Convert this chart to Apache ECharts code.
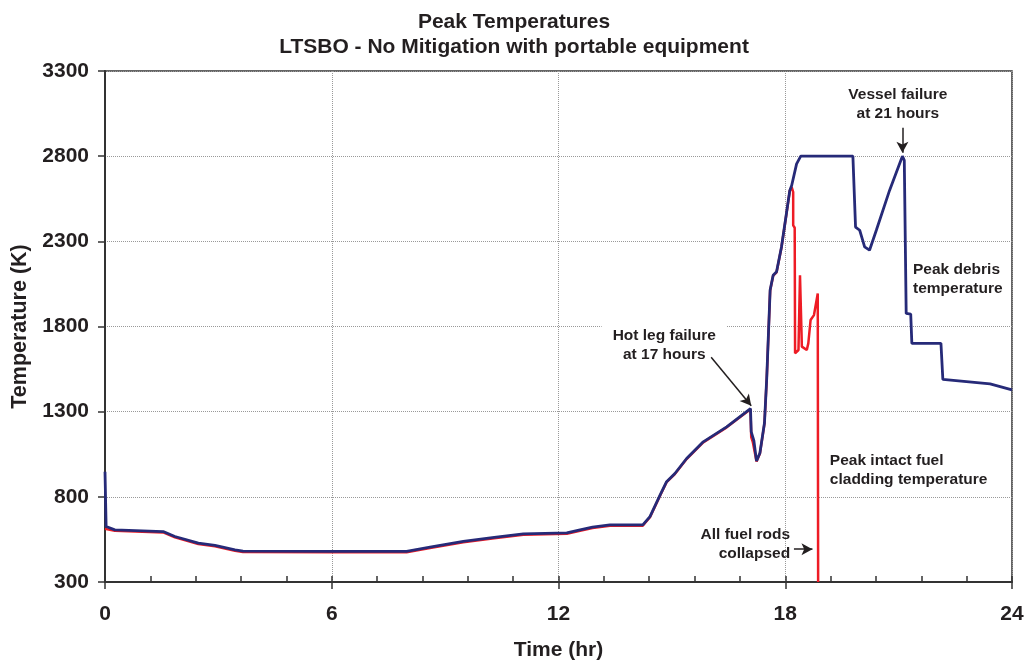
<!DOCTYPE html>
<html>
<head>
<meta charset="utf-8">
<script src="https://cdn.jsdelivr.net/npm/echarts@6/dist/echarts.min.js"></script>
<style>
html,body{margin:0;padding:0;background:#fff;}
#chart{width:1028px;height:666px;}
</style>
</head>
<body>
<div id="chart"></div>
<script>
// Peak debris temperature (blue)
var timeBlue = [0, 0.03, 0.26, 1.54, 1.85, 2.47, 2.91, 3.44, 3.65, 5.95, 7.98, 8.6, 9.48, 10.3, 11.07, 12.22, 12.57, 12.9, 13.36, 14.23, 14.42, 14.69, 14.86, 15.08, 15.39, 15.83, 16.45, 17.08, 17.1, 17.14, 17.17, 17.24, 17.33, 17.45, 17.51, 17.6, 17.68, 17.77, 17.9, 18.03, 18.12, 18.17, 18.3, 18.41, 19.79, 19.86, 19.97, 20.05, 20.1, 20.23, 20.41, 20.76, 21.1, 21.15, 21.2, 21.32, 21.35, 22.12, 22.17, 23.42, 24.0];
var tempBlue = [947, 626, 606, 596, 567, 528, 515, 489, 481, 480, 480, 505, 538, 562, 583, 588, 606, 622, 635, 635, 684, 811, 889, 937, 1025, 1123, 1211, 1318, 1181, 1175, 1130, 1010, 1057, 1233, 1496, 2014, 2101, 2121, 2267, 2462, 2599, 2628, 2755, 2800, 2800, 2384, 2365, 2306, 2267, 2248, 2365, 2599, 2800, 2775, 1877, 1873, 1701, 1701, 1490, 1463, 1428];
// Peak intact fuel cladding temperature (red)
var timeRed = [0, 0.26, 1.54, 1.85, 2.47, 2.91, 3.44, 3.65, 5.95, 7.98, 8.6, 9.48, 10.3, 11.07, 12.22, 12.57, 12.9, 13.36, 14.23, 14.42, 14.69, 14.86, 15.08, 15.39, 15.83, 16.45, 17.08, 17.1, 17.14, 17.17, 17.24, 17.33, 17.45, 17.51, 17.6, 17.68, 17.77, 17.9, 18.03, 18.12, 18.17, 18.21, 18.21, 18.24, 18.25, 18.26, 18.35, 18.39, 18.44, 18.57, 18.61, 18.67, 18.76, 18.86, 18.87];
var tempRed = [612, 601, 591, 562, 523, 510, 484, 476, 475, 475, 500, 533, 557, 578, 583, 601, 617, 630, 630, 680, 808, 886, 934, 1022, 1120, 1208, 1314, 1150, 1123, 1130, 1008, 1055, 1230, 1493, 2010, 2098, 2118, 2264, 2459, 2596, 2619, 2589, 2394, 2404, 2380, 1643, 1662, 2101, 1682, 1662, 1701, 1838, 1867, 1994, 300];
var xTicks = [0, 6, 12, 18, 24];
var yTicks = [300, 800, 1300, 1800, 2300, 2800, 3300];

function zip(a, b) { return a.map(function (v, i) { return [v, b[i]]; }); }

var FONT = '"Liberation Sans", Arial, sans-serif';
var chart = echarts.init(document.getElementById('chart'));
var option = {
  animation: false,
  backgroundColor: '#fff',
  title: {
    text: 'Peak Temperatures\nLTSBO - No Mitigation with portable equipment',
    left: 'center', top: 5,
    textStyle: { fontFamily: FONT, fontWeight: 'bold', fontSize: 21, lineHeight: 25, color: '#231f20' }
  },
  grid: { left: 105, right: 16, top: 71, bottom: 82, show: true, borderColor: '#333', borderWidth: 1.5, backgroundColor: 'transparent' },
  xAxis: [{
    type: 'value', min: xTicks[0], max: xTicks[xTicks.length - 1], interval: 6,
    name: 'Time (hr)', nameLocation: 'middle', nameGap: 58,
    nameTextStyle: { fontFamily: FONT, fontWeight: 'bold', fontSize: 21, color: '#231f20' },
    axisLine: { lineStyle: { color: '#333', width: 2 } },
    axisTick: { show: true, inside: false, length: 7, lineStyle: { color: '#333', width: 1.5 } },
    axisLabel: { fontFamily: FONT, fontWeight: 'bold', fontSize: 21, color: '#231f20', margin: 22, formatter: function (v) { return String(v); } },
    splitLine: { show: true, lineStyle: { color: '#999', type: 'dotted', width: 1 } }
  }, {
    type: 'value', min: 0, max: 24, interval: 1.2, position: 'bottom',
    axisLine: { show: false },
    axisTick: { show: true, inside: true, length: 6, lineStyle: { color: '#333', width: 1.5 } },
    axisLabel: { show: false },
    splitLine: { show: false }
  }],
  yAxis: {
    type: 'value', min: yTicks[0], max: yTicks[yTicks.length - 1], interval: 500,
    name: 'Temperature (K)', nameLocation: 'middle', nameGap: 74,
    nameTextStyle: { fontFamily: FONT, fontWeight: 'bold', fontSize: 21.5, color: '#231f20' },
    axisLine: { show: true, lineStyle: { color: '#333', width: 2 } },
    axisTick: { show: true, inside: false, length: 7, lineStyle: { color: '#333', width: 1.5 } },
    axisLabel: { fontFamily: FONT, fontWeight: 'bold', fontSize: 21, color: '#231f20', margin: 16, formatter: function (v) { return String(v); } },
    splitLine: { show: true, lineStyle: { color: '#999', type: 'dotted', width: 1 } }
  },
  series: [{
    type: 'line', name: 'Peak intact fuel cladding temperature', data: zip(timeRed, tempRed),
    showSymbol: false, lineStyle: { color: '#ee1c25', width: 2.5 }, itemStyle: { color: '#ee1c25' }, z: 2
  }, {
    type: 'line', name: 'Peak debris temperature', data: zip(timeBlue, tempBlue),
    showSymbol: false, lineStyle: { color: '#262a78', width: 2.8 }, itemStyle: { color: '#262a78' }, z: 3
  }, {
    type: 'line', name: 'arrows', data: [], z: 4,
    markLine: {
      silent: true, symbol: ['none', 'arrow'], symbolSize: [9, 11], label: { show: false },
      lineStyle: { color: '#231f20', width: 1.5, type: 'solid' },
      data: [
        [{ coord: [21.1, 2967] }, { coord: [21.1, 2820] }],
        [{ coord: [16.04, 1620] }, { coord: [17.1, 1335] }],
        [{ coord: [18.23, 493] }, { coord: [18.72, 493] }]
      ]
    }
  }]
};
chart.setOption(option);

var notes = [
  { t: 20.98, v: 3107, text: 'Vessel failure\nat 21 hours', align: 'center', bg: null },
  { t: 21.38, v: 2078, text: 'Peak debris\ntemperature', align: 'left', bg: null },
  { t: 14.8, v: 1688, text: 'Hot leg failure\nat 17 hours', align: 'center', bg: '#fff' },
  { t: 19.18, v: 955, text: 'Peak intact fuel\ncladding temperature', align: 'left', bg: null },
  { t: 18.13, v: 522, text: 'All fuel rods\ncollapsed', align: 'right', bg: null }
];
var graphics = notes.map(function (n) {
  var p = chart.convertToPixel({ gridIndex: 0 }, [n.t, n.v]);
  return {
    type: 'text', x: p[0], y: p[1], z: 1,
    style: {
      text: n.text, align: n.align, verticalAlign: 'middle',
      font: 'bold 15.5px ' + FONT, fill: '#231f20', lineHeight: 19,
      backgroundColor: n.bg || 'transparent', padding: n.bg ? [8, 11, 1, 11] : 0
    }
  };
});
chart.setOption({ graphic: graphics });
</script>
</body>
</html>
